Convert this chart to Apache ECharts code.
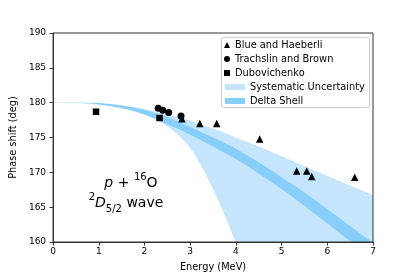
<!DOCTYPE html>
<html>
<head>
<meta charset="utf-8">
<script src="https://cdn.jsdelivr.net/npm/echarts@6/dist/echarts.min.js"></script>
<style>html,body{margin:0;padding:0;background:#fff}#c{width:415px;height:277px}</style>
</head>
<body>
<div id="c"></div>
<script>
// ---- data ----
const energyGrid = [0, 0.5, 1, 1.5, 2, 2.5, 3, 3.5, 4, 4.5, 5, 5.5, 6, 6.5, 7];
const sysUpper = [180, 180, 179.9, 179.6, 179.1, 178.3, 177.4, 176.3, 175.0, 173.7, 172.3, 170.9, 169.5, 168.1, 166.7];
const sysLower = [180, 179.95, 179.7, 179.2, 178.3, 176.6, 173.5, 167.6, 159.8, 150, 139, 127, 114, 100, 85];
const dsUpper = [180, 180, 179.95, 179.6, 178.95, 177.9, 176.5, 175.0, 173.4, 171.45, 169.3, 167.1, 164.75, 162.3, 159.9];
const dsLower = [180, 179.98, 179.75, 179.2, 178.25, 176.9, 175.4, 173.7, 171.9, 169.85, 167.6, 165.2, 162.7, 160.1, 157.7];

const blueE = [2.82, 3.21, 3.58, 4.52, 5.33, 5.55, 5.66, 6.6];
const blueD = [177.7, 177.0, 177.0, 174.8, 170.2, 170.2, 169.4, 169.3];
const trachE = [2.30, 2.40, 2.53, 2.80];
const trachD = [179.2, 178.9, 178.6, 178.1];
const dubE = [0.94, 2.33];
const dubD = [178.7, 177.8];

const xTicks = [0, 1, 2, 3, 4, 5, 6, 7];
const yTicks = [160, 165, 170, 175, 180, 185, 190];

const legendMarkers = ['Blue and Haeberli', 'Trachslin and Brown', 'Dubovichenko'];
const legendBands = ['Systematic Uncertainty', 'Delta Shell'];

// ---- build ----
const FONT = 'DejaVu Sans';
const LIGHT = '#c4e5fb';
const DARK = '#87cefa';
const pairs = (xs, ys) => xs.map((x, i) => [x, ys[i]]);

const chart = echarts.init(document.getElementById('c'), null, {renderer: 'canvas'});

// each band edge is drawn as an area filled down to the axis minimum;
// painting order upper-light, upper-dark, lower-dark(light), lower-light(white)
// leaves exactly the two bands visible.
const edge = (name, vals, color, z) => ({
  name, type: 'line', data: pairs(energyGrid, vals),
  smooth: 0.3, showSymbol: false, symbol: 'none',
  itemStyle: {color}, lineStyle: {width: 0, opacity: 0},
  areaStyle: {color, opacity: 1, origin: 'start'}, silent: true, z, clip: true
});

const option = {
  animation: false,
  textStyle: {fontFamily: FONT},
  grid: {left: 52, right: 42, top: 33, bottom: 35, show: true, borderColor: '#333', borderWidth: 1,
    backgroundColor: 'transparent', z: 8},
  xAxis: {
    type: 'value', min: 0, max: 7, interval: 1, z: 8,
    name: 'Energy (MeV)', nameLocation: 'middle', nameGap: 20,
    nameTextStyle: {fontFamily: FONT, fontSize: 9.8, color: '#000'},
    axisLine: {lineStyle: {color: '#333', width: 1}},
    axisTick: {inside: false, length: 3.5, lineStyle: {color: '#333'}},
    axisLabel: {margin: 5, fontFamily: FONT, fontSize: 9, color: '#000',
      formatter: v => xTicks.includes(v) ? String(v) : ''},
    splitLine: {show: false}
  },
  yAxis: {
    type: 'value', min: 160, max: 190, interval: 5, z: 8,
    name: 'Phase shift (deg)', nameLocation: 'middle', nameGap: 28,
    nameTextStyle: {fontFamily: FONT, fontSize: 9.8, color: '#000'},
    axisLine: {show: true, lineStyle: {color: '#333', width: 1}},
    axisTick: {show: true, inside: false, length: 3.5, lineStyle: {color: '#333'}},
    axisLabel: {margin: 7, fontFamily: FONT, fontSize: 9, color: '#000',
      formatter: v => yTicks.includes(v) ? String(v) : ''},
    splitLine: {show: false}
  },
  legend: [
    {
      data: legendMarkers.map((n, i) => ({name: n, icon: ['triangle', 'circle', 'rect'][i]})),
      orient: 'vertical', left: 224, top: 39, padding: 0,
      itemWidth: 6, itemHeight: 6, itemGap: 2, itemTextGap: 22,
      textStyle: {fontFamily: FONT, fontSize: 9.8, color: '#000', lineHeight: 12},
      selectedMode: false, z: 10
    },
    {
      data: legendBands.map(n => ({name: n, icon: 'rect'})),
      orient: 'vertical', left: 225, top: 81, padding: 0,
      itemWidth: 20, itemHeight: 6, itemGap: 2, itemTextGap: 7,
      textStyle: {fontFamily: FONT, fontSize: 9.8, color: '#000', lineHeight: 12},
      selectedMode: false, z: 10
    }
  ],
  graphic: [
    {type: 'rect', z: 9, shape: {x: 221.5, y: 37.5, width: 148, height: 70, r: 2},
      style: {fill: '#fff', stroke: '#ccc', lineWidth: 1}},
    {type: 'text', z: 9, x: 131, y: 183,
      style: {text: '{i|p}{r| + }{sup|16}{r|O}', align: 'center', verticalAlign: 'middle',
        rich: {
          i: {fontFamily: FONT, fontStyle: 'italic', fontSize: 14, lineHeight: 22, fill: '#000'},
          r: {fontFamily: FONT, fontSize: 14, lineHeight: 22, fill: '#000'},
          sup: {fontFamily: FONT, fontSize: 10, lineHeight: 10, verticalAlign: 'top', fill: '#000'}
        }}},
    {type: 'text', z: 9, x: 126, y: 203,
      style: {text: '{sup|2}{i|D}{sub|5/2}{r| wave}', align: 'center', verticalAlign: 'middle',
        rich: {
          i: {fontFamily: FONT, fontStyle: 'italic', fontSize: 14, lineHeight: 22, fill: '#000'},
          r: {fontFamily: FONT, fontSize: 14, lineHeight: 22, fill: '#000'},
          sup: {fontFamily: FONT, fontSize: 10, lineHeight: 10, verticalAlign: 'top', fill: '#000'},
          sub: {fontFamily: FONT, fontSize: 10, lineHeight: 12, verticalAlign: 'bottom', fill: '#000'}
        }}}
  ],
  series: [
    edge('Systematic Uncertainty', sysUpper, LIGHT, 1),
    edge('Delta Shell', dsUpper, DARK, 2),
    edge('_dsLowerFill', dsLower, LIGHT, 3),
    edge('_sysLowerFill', sysLower, '#ffffff', 4),
    {name: 'Blue and Haeberli', type: 'scatter', data: pairs(blueE, blueD), symbol: 'triangle', symbolSize: 7.5,
      itemStyle: {color: '#000', opacity: 1}, z: 6},
    {name: 'Trachslin and Brown', type: 'scatter', data: pairs(trachE, trachD), symbol: 'circle', symbolSize: 7,
      itemStyle: {color: '#000', opacity: 1}, z: 6},
    {name: 'Dubovichenko', type: 'scatter', data: pairs(dubE, dubD), symbol: 'rect', symbolSize: 6.5,
      itemStyle: {color: '#000', opacity: 1}, z: 6}
  ]
};
chart.setOption(option);
</script>
</body>
</html>
